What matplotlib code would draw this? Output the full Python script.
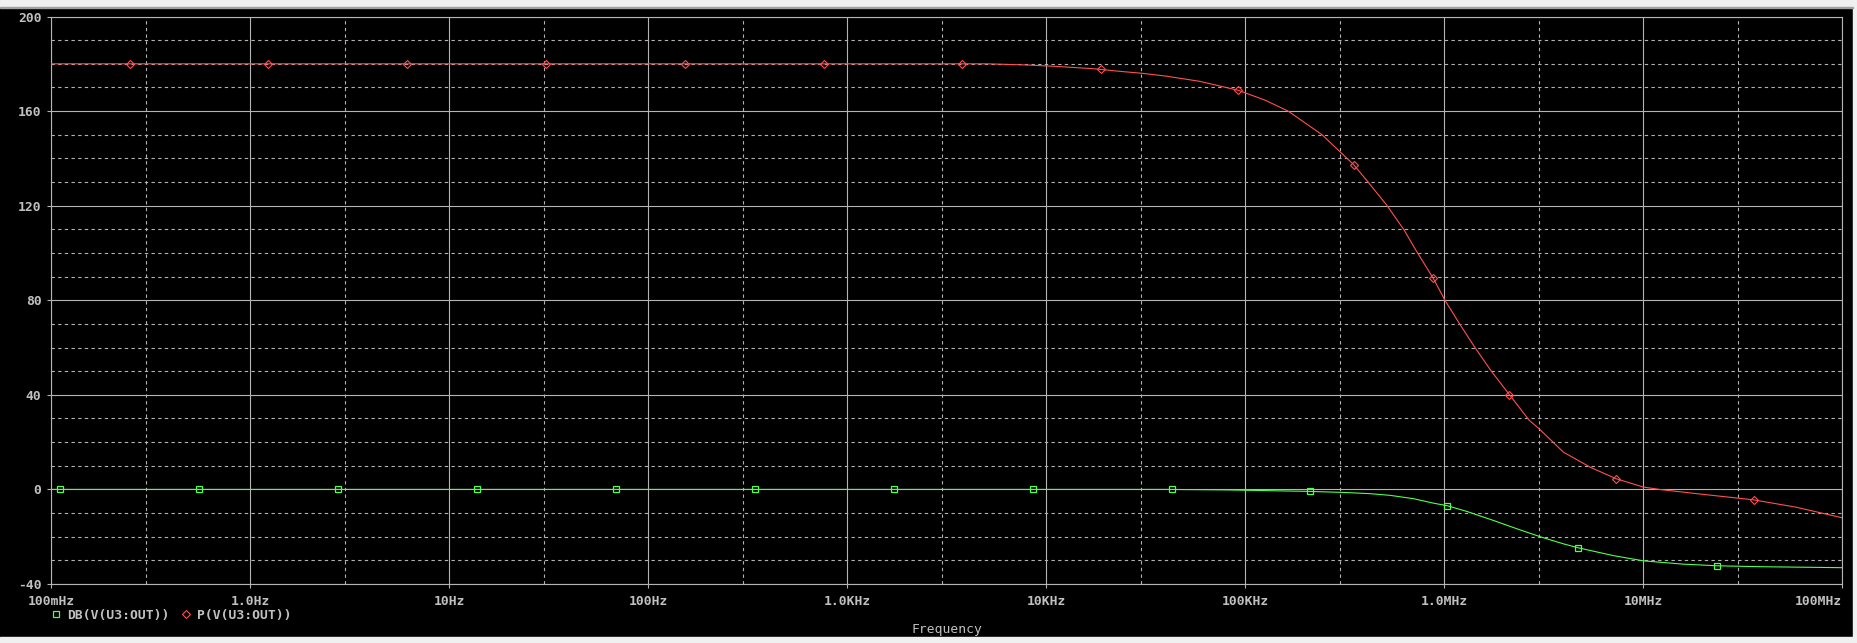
import numpy as np
import matplotlib
matplotlib.use('Agg')
import matplotlib.pyplot as plt
from matplotlib.patches import Rectangle

# phase curve P(V(U3:OUT)), degrees
phase_f = [0.1, 5012, 7943, 11220, 17380, 23440, 30200, 39810, 58880, 92040,
           125900, 164100, 242100, 349900, 413000, 514000, 629500, 711200,
           881000, 1.009e6, 1.2e6, 1.426e6, 1.73e6, 2.123e6, 2.673e6, 2.992e6,
           3.963e6, 5.408e6, 7.31e6, 1e7, 1.23e7, 2.0e7, 3.58e7, 5.85e7, 1e8]
phase_v = [180, 180, 179.5, 178.9, 177.9, 176.8, 176.0, 174.8, 172.6, 168.8,
           164.6, 160.0, 150.1, 137.4, 130.1, 120.2, 109.6, 101.9,
           89.2, 79.9, 69.7, 60.0, 49.8, 40.1, 29.2, 25.7,
           15.8, 9.4, 4.5, 1.0, -0.1, -2.1, -4.4, -7.5, -12.0]

# gain curve DB(V(U3:OUT))
db_f = [0.1, 39810, 79430, 125900, 212200, 317000, 423600, 533300, 698200,
        881000, 1.035e6, 1.297e6, 1.762e6, 2.399e6, 3.083e6, 3.963e6, 4.714e6,
        7.08e6, 1e7, 1.585e7, 2.354e7, 3.98e7, 1e8]
db_v = [0, 0, -0.2, -0.5, -0.85, -1.3, -1.8, -2.5, -3.9,
        -5.8, -6.9, -9.3, -13.1, -17.1, -20.2, -23.0, -24.7,
        -28.0, -30.2, -31.6, -32.3, -32.7, -33.1]

# symbol positions
db_mk_f = [0.111, 0.5546, 2.765, 13.80, 68.81, 343.4, 1713, 8545, 42630,
           212200, 1.035e6, 4.714e6, 2.354e7]
db_mk_v = [0, 0, 0, 0, 0, 0, 0, 0, 0, -0.85, -6.9, -24.7, -32.3]
ph_mk_f = [0.2495, 1.232, 6.14, 30.6, 152.8, 763.9, 3784, 18880, 92040,
           349900, 881000, 2.123e6, 7.31e6, 3.58e7]
ph_mk_v = [180, 180, 180, 180, 180, 180, 180, 177.6, 168.8, 137.4, 89.2,
           40.1, 4.5, -4.4]

xtick_vals = [0.1, 1, 10, 100, 1e3, 1e4, 1e5, 1e6, 1e7, 1e8]
xtick_labels = ['100mHz', '1.0Hz', '10Hz', '100Hz', '1.0KHz', '10KHz',
                '100KHz', '1.0MHz', '10MHz', '100MHz']
ytick_vals = [-40, 0, 40, 80, 120, 160, 200]

red = '#ff5050'
green = '#50ff50'
gc = '#b4b4b4'
tc = '#c0c0c0'
mono = {'family': 'DejaVu Sans Mono', 'weight': 'bold', 'size': 9.4}

fig = plt.figure(figsize=(18.58, 6.43), dpi=100, facecolor='black')
# window border strips
light = '#f0f0f0'
for r in [(0, 1-7/643, 1, 7/643), (0, 0, 1, 6/643), (1853/1858, 0, 5/1858, 1)]:
    fig.patches.append(Rectangle(r[:2], r[2], r[3], transform=fig.transFigure,
                                 color=light, zorder=-1))
fig.patches.append(Rectangle((0, 1-8/643), 1853/1858, 1.2/643,
                             transform=fig.transFigure, color='#a0a0a0', zorder=-1))

ax = fig.add_axes([51.3/1858, 1-584/643, (1842.3-51.3)/1858, (584-16.5)/643])
ax.set_facecolor('black')
ax.set_xscale('log')
ax.set_xlim(0.1, 1e8)
ax.set_ylim(-40, 200)

ax.plot(phase_f, phase_v, color=red, lw=0.8, zorder=3)
ax.plot(db_f, db_v, color=green, lw=0.8, zorder=3)
l1, = ax.plot(db_mk_f, db_mk_v, ls='none', marker='s', ms=4.3, mfc='none',
              mec=green, mew=0.9, zorder=4)
l2, = ax.plot(ph_mk_f, ph_mk_v, ls='none', marker='D', ms=3.6, mfc='none',
              mec=red, mew=0.8, zorder=4)

ax.set_xticks(xtick_vals)
ax.set_xticklabels(xtick_labels, fontdict=mono, color=tc)
ax.get_xticklabels()[-1].set_ha('right')
ax.set_xticks([3 * v for v in xtick_vals[:-1]], minor=True)
ax.set_yticks(ytick_vals)
ax.set_yticklabels([str(v) for v in ytick_vals], fontdict=mono, color=tc)
ax.set_yticks(np.arange(-40, 201, 10), minor=True)
ax.tick_params(which='major', length=3, width=0.8, color=gc, pad=4)
ax.tick_params(axis='x', which='major', pad=5)
ax.tick_params(which='minor', length=0)

ax.set_axisbelow(True)
ax.grid(which='major', color=gc, lw=0.8, ls='-')
ax.grid(which='minor', color=gc, lw=0.8, ls=(0, (3, 3)))
for s in ax.spines.values():
    s.set_color(gc)
    s.set_linewidth(0.8)

leg = ax.legend([l1, l2], ['DB(V(U3:OUT))', 'P(V(U3:OUT))'], loc='center left',
                bbox_to_anchor=(51/1858, 1-615/643), bbox_transform=fig.transFigure,
                ncol=2, frameon=False, handlelength=0.8, handletextpad=0.45,
                columnspacing=0.85, borderpad=0, borderaxespad=0,
                prop=mono, labelcolor=tc)

fig.text(947/1858, 1-629/643, 'Frequency', color=tc, ha='center', va='center',
         family='DejaVu Sans Mono', size=9.4)

fig.savefig('out.png', dpi=100, facecolor=fig.get_facecolor())
